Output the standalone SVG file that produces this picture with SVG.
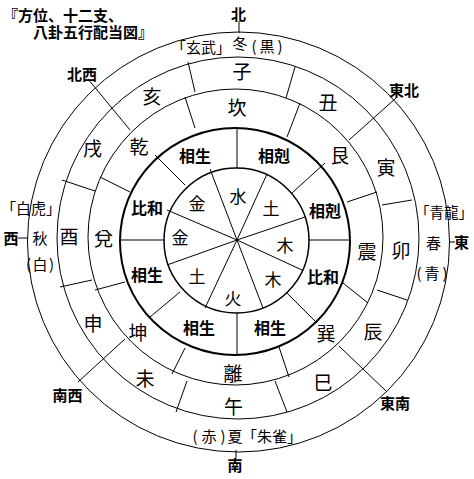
<svg xmlns="http://www.w3.org/2000/svg" width="474" height="479" viewBox="0 0 474 479">
<style>
  text { font-family: "Noto Sans CJK JP", "Noto Sans CJK SC", sans-serif; fill: #000; text-anchor: middle; dominant-baseline: central; }
  .title { font-size: 15px; font-weight: bold; text-anchor: start; }
  .dir { font-size: 15px; font-weight: bold; }
  .season { font-size: 15px; }
  .branch { font-size: 19px; }
  .gua { font-size: 19px; }
  .rel { font-size: 16px; font-weight: bold; }
  .elem { font-size: 17px; }
  .ring { fill: none; stroke: #000; stroke-width: 1; }
  .ln { stroke: #000; stroke-width: 1; fill: none; }
</style>
<rect width="474" height="479" fill="#fff"/>

<g id="rings">
  <ellipse class="ring" cx="238.5" cy="242" rx="211" ry="210"/>
  <circle class="ring" cx="238" cy="238" r="181"/>
  <ellipse class="ring" cx="235.5" cy="237" rx="147.5" ry="148"/>
  <ellipse class="ring" cx="235" cy="241.5" rx="115" ry="113.5" style="stroke-width:2"/>
  <circle class="ring" cx="236.5" cy="240.5" r="72.5" style="stroke-width:1.5"/>
</g>

<g id="connectors">
  <!-- inner element sectors -->
  <line class="ln" x1="237" y1="240" x2="210" y2="169"/>
  <line class="ln" x1="237" y1="240" x2="267" y2="174"/>
  <line class="ln" x1="237" y1="240" x2="305" y2="217"/>
  <line class="ln" x1="237" y1="240" x2="302" y2="270"/>
  <line class="ln" x1="237" y1="240" x2="263" y2="308"/>
  <line class="ln" x1="237" y1="240" x2="205" y2="308"/>
  <line class="ln" x1="237" y1="240" x2="167" y2="265"/>
  <line class="ln" x1="237" y1="240" x2="167" y2="210"/>
  <!-- relation ring dividers -->
  <line class="ln" x1="237" y1="128" x2="237" y2="168"/>
  <line class="ln" x1="325" y1="163" x2="292" y2="193"/>
  <line class="ln" x1="309" y1="240" x2="349" y2="240"/>
  <line class="ln" x1="287" y1="293" x2="317" y2="323"/>
  <line class="ln" x1="237" y1="313" x2="237" y2="355"/>
  <line class="ln" x1="180" y1="292" x2="150" y2="317"/>
  <line class="ln" x1="121" y1="240" x2="164" y2="240"/>
  <line class="ln" x1="155" y1="155" x2="185" y2="185"/>
  <!-- trigram ring dividers -->
  <line class="ln" x1="195" y1="128" x2="185" y2="97"/>
  <line class="ln" x1="287" y1="137" x2="300" y2="103"/>
  <line class="ln" x1="347" y1="202" x2="377" y2="192"/>
  <line class="ln" x1="343" y1="283" x2="368" y2="303"/>
  <line class="ln" x1="279" y1="347" x2="289" y2="377"/>
  <line class="ln" x1="185" y1="348" x2="172" y2="374"/>
  <line class="ln" x1="125" y1="282" x2="95" y2="290"/>
  <line class="ln" x1="130" y1="192" x2="100" y2="177"/>
  <!-- branch ring dividers -->
  <line class="ln" x1="195" y1="92" x2="188" y2="62"/>
  <line class="ln" x1="286" y1="98" x2="295" y2="67"/>
  <line class="ln" x1="382" y1="205" x2="412" y2="200"/>
  <line class="ln" x1="377" y1="290" x2="407" y2="300"/>
  <line class="ln" x1="275" y1="381" x2="287" y2="412"/>
  <line class="ln" x1="187" y1="381" x2="176" y2="412"/>
  <line class="ln" x1="92" y1="280" x2="60" y2="287"/>
  <line class="ln" x1="95" y1="191" x2="62" y2="180"/>
  <!-- diagonal direction lines -->
  <line class="ln" x1="349" y1="140" x2="396" y2="98"/>
  <line class="ln" x1="339" y1="346" x2="387" y2="392"/>
  <line class="ln" x1="125" y1="339" x2="78" y2="382"/>
  <line class="ln" x1="130" y1="130" x2="88" y2="79"/>
  <!-- cardinal ticks -->
  <line class="ln" x1="239" y1="21" x2="239" y2="33"/>
  <line class="ln" x1="18" y1="238" x2="28" y2="238"/>
  <line class="ln" x1="449" y1="242" x2="455" y2="242"/>
  <line class="ln" x1="236" y1="450" x2="236" y2="458"/>
</g>

<g id="title">
  <text class="title"><tspan x="3" y="13.5">『方位、十二支、</tspan><tspan x="33" y="30.5">八卦五行配当図』</tspan></text>
</g>

<g id="directions">
  <g id="dir-n"><text class="dir" x="238.5" y="13.5">北</text></g>
  <g id="dir-ne"><text class="dir" x="404" y="89">東北</text></g>
  <g id="dir-e"><text class="dir" x="461.5" y="241.5">東</text></g>
  <g id="dir-se"><text class="dir" x="395" y="402.5">東南</text></g>
  <g id="dir-s"><text class="dir" x="235" y="464">南</text></g>
  <g id="dir-sw"><text class="dir" x="67.5" y="394">南西</text></g>
  <g id="dir-w"><text class="dir" x="11" y="237.5">西</text></g>
  <g id="dir-nw"><text class="dir" x="82" y="73">北西</text></g>
</g>

<g id="seasons">
  <g id="season-winter">
    <text class="season" x="201" y="46">「玄武」</text>
    <text class="season" x="240" y="42">冬</text>
    <text class="season" x="267" y="45" textLength="31" lengthAdjust="spacing">(黒)</text>
  </g>
  <g id="season-autumn">
    <text class="season" x="31" y="207">「白虎」</text>
    <text class="season" x="40" y="237">秋</text>
    <text class="season" x="40" y="263" textLength="28" lengthAdjust="spacing">(白)</text>
  </g>
  <g id="season-spring">
    <text class="season" x="444" y="211.5" style="font-size:14.5px">「青龍」</text>
    <text class="season" x="433.5" y="242.5">春</text>
    <text class="season" x="432" y="272.5" textLength="31" lengthAdjust="spacing">(青)</text>
  </g>
  <g id="season-summer">
    <text class="season" x="209" y="435" textLength="33" lengthAdjust="spacing">(赤)</text>
    <text class="season" x="235" y="435">夏</text>
    <text class="season" x="272" y="435">「朱雀」</text>
  </g>
</g>

<g id="branches">
  <g id="b-zi"><text class="branch" x="242" y="70">子</text></g>
  <g id="b-chou"><text class="branch" x="328" y="101">丑</text></g>
  <g id="b-yin"><text class="branch" x="386" y="166">寅</text></g>
  <g id="b-mao"><text class="branch" x="401" y="249">卯</text></g>
  <g id="b-chen"><text class="branch" x="373" y="330">辰</text></g>
  <g id="b-si"><text class="branch" x="323" y="381">巳</text></g>
  <g id="b-wu"><text class="branch" x="233.5" y="405">午</text></g>
  <g id="b-wei"><text class="branch" x="145" y="377">未</text></g>
  <g id="b-shen"><text class="branch" x="93" y="322">申</text></g>
  <g id="b-you"><text class="branch" x="69" y="235">酉</text></g>
  <g id="b-xu"><text class="branch" x="92.5" y="147.5">戌</text></g>
  <g id="b-hai"><text class="branch" x="152" y="95">亥</text></g>
</g>

<g id="trigrams">
  <g id="g-kan"><text class="gua" x="237" y="106">坎</text></g>
  <g id="g-gen"><text class="gua" x="340" y="154">艮</text></g>
  <g id="g-zhen"><text class="gua" x="367" y="250">震</text></g>
  <g id="g-xun"><text class="gua" x="326" y="332">巽</text></g>
  <g id="g-li"><text class="gua" x="233" y="372">離</text></g>
  <g id="g-kun"><text class="gua" x="138" y="331">坤</text></g>
  <g id="g-dui"><text class="gua" x="103.5" y="237.5">兌</text></g>
  <g id="g-qian"><text class="gua" x="139" y="145">乾</text></g>
</g>

<g id="relations">
  <g id="r-nnw"><text class="rel" x="195" y="155">相生</text></g>
  <g id="r-nne"><text class="rel" x="274" y="155">相剋</text></g>
  <g id="r-ene"><text class="rel" x="325" y="210">相剋</text></g>
  <g id="r-ese"><text class="rel" x="323" y="276">比和</text></g>
  <g id="r-sse"><text class="rel" x="270" y="327">相生</text></g>
  <g id="r-ssw"><text class="rel" x="199" y="327">相生</text></g>
  <g id="r-wsw"><text class="rel" x="147" y="274">相生</text></g>
  <g id="r-wnw"><text class="rel" x="147" y="207">比和</text></g>
</g>

<g id="elements">
  <g id="e-n"><text class="elem" x="238" y="195">水</text></g>
  <g id="e-ne"><text class="elem" x="271" y="207">土</text></g>
  <g id="e-e"><text class="elem" x="285" y="244">木</text></g>
  <g id="e-se"><text class="elem" x="273" y="278">木</text></g>
  <g id="e-s"><text class="elem" x="233" y="297">火</text></g>
  <g id="e-sw"><text class="elem" x="197" y="275">土</text></g>
  <g id="e-w"><text class="elem" x="180" y="236">金</text></g>
  <g id="e-nw"><text class="elem" x="197" y="202">金</text></g>
</g>
</svg>
